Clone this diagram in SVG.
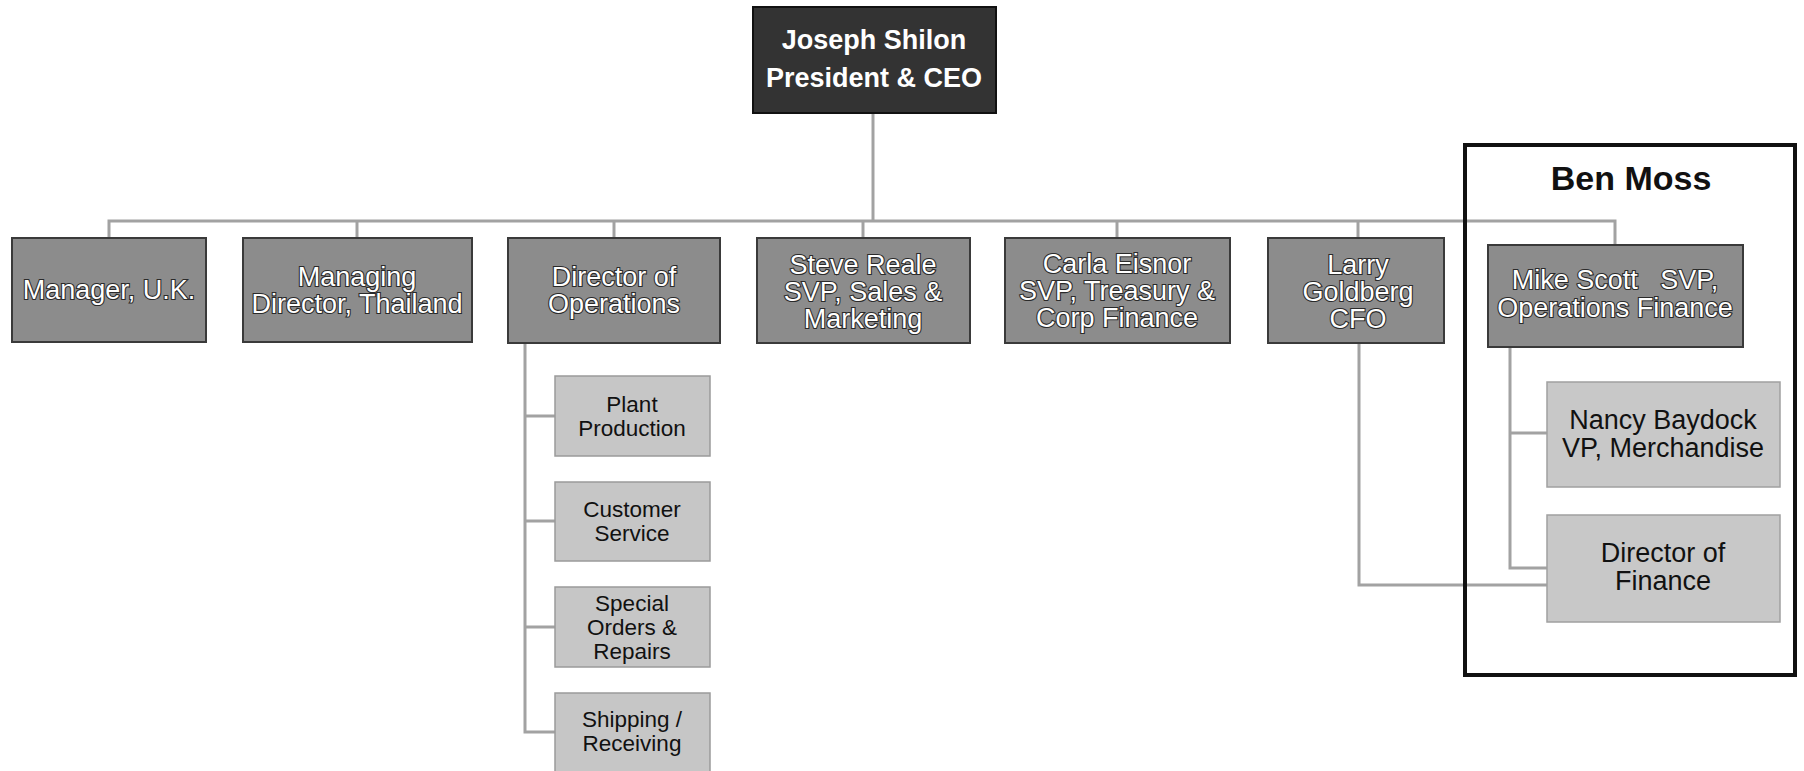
<svg xmlns="http://www.w3.org/2000/svg" width="1804" height="771" viewBox="0 0 1804 771">
<style>
.bg{fill:#ffffff}
.top{fill:#8c8c8c;stroke:#3a3a3a;stroke-width:2}
.ceo{fill:#333333;stroke:#111111;stroke-width:2}
.sub{fill:#c6c6c6;stroke:#9a9a9a;stroke-width:1.5}
.subL{fill:#c8c8c8;stroke:#a0a0a0;stroke-width:1.5}
.wt{font-family:"Liberation Sans",Arial,sans-serif;font-size:27px;fill:#ffffff;stroke:#2a2a2a;stroke-width:2.2;paint-order:stroke;text-anchor:middle;white-space:pre}
.ct{font-family:"Liberation Sans",Arial,sans-serif;font-size:27px;font-weight:bold;fill:#ffffff;text-anchor:middle}
.st{font-family:"Liberation Sans",Arial,sans-serif;font-size:22.5px;fill:#111111;text-anchor:middle}
.lt{font-family:"Liberation Sans",Arial,sans-serif;font-size:27px;fill:#111111;text-anchor:middle}
.bm{font-family:"Liberation Sans",Arial,sans-serif;font-size:34px;font-weight:bold;fill:#111111;text-anchor:middle}
.ln{fill:none;stroke:#a2a2a2;stroke-width:3}
.frame{fill:none;stroke:#111111;stroke-width:4}
</style>
<rect class="bg" x="0" y="0" width="1804" height="771"/>

<g id="connectors">
  <path class="ln" d="M873 113 V221"/>
  <path class="ln" d="M109 238 V221 H1615 V245"/>
  <path class="ln" d="M357 221 V238"/>
  <path class="ln" d="M614 221 V238"/>
  <path class="ln" d="M863 221 V238"/>
  <path class="ln" d="M1117 221 V238"/>
  <path class="ln" d="M1358 221 V238"/>
  <path class="ln" d="M525 343 V732 H555 M525 416 H555 M525 521 H555 M525 627 H555"/>
  <path class="ln" d="M1359 343 V585 H1547"/>
  <path class="ln" d="M1510 347 V568 H1547 M1510 433 H1547"/>
</g>

<g id="ben-moss-group">
  <rect class="frame" x="1465" y="145" width="330" height="530"/>
  <text class="bm" x="1631" y="190">Ben Moss</text>
</g>

<g id="ceo">
  <rect class="ceo" x="753" y="7" width="243" height="106"/>
  <text class="ct" x="874" y="49">Joseph Shilon</text>
  <text class="ct" x="874" y="87">President &amp; CEO</text>
</g>

<g id="manager-uk">
  <rect class="top" x="12" y="238" width="194" height="104"/>
  <text class="wt" x="109" y="299">Manager, U.K.</text>
</g>

<g id="md-thailand">
  <rect class="top" x="243" y="238" width="229" height="104"/>
  <text class="wt" x="357" y="286">Managing</text>
  <text class="wt" x="357" y="313">Director, Thailand</text>
</g>

<g id="dir-operations">
  <rect class="top" x="508" y="238" width="212" height="105"/>
  <text class="wt" x="614" y="286">Director of</text>
  <text class="wt" x="614" y="313">Operations</text>
</g>

<g id="steve-reale">
  <rect class="top" x="757" y="238" width="213" height="105"/>
  <text class="wt" x="863" y="274">Steve Reale</text>
  <text class="wt" x="863" y="301">SVP, Sales &amp;</text>
  <text class="wt" x="863" y="328">Marketing</text>
</g>

<g id="carla-eisnor">
  <rect class="top" x="1005" y="238" width="225" height="105"/>
  <text class="wt" x="1117" y="273">Carla Eisnor</text>
  <text class="wt" x="1117" y="300">SVP, Treasury &amp;</text>
  <text class="wt" x="1117" y="327">Corp Finance</text>
</g>

<g id="larry-goldberg">
  <rect class="top" x="1268" y="238" width="176" height="105"/>
  <text class="wt" x="1358" y="274">Larry</text>
  <text class="wt" x="1358" y="301">Goldberg</text>
  <text class="wt" x="1358" y="328">CFO</text>
</g>

<g id="mike-scott">
  <rect class="top" x="1488" y="245" width="255" height="102"/>
  <text class="wt" x="1615" y="289">Mike Scott   SVP,</text>
  <text class="wt" x="1615" y="317">Operations Finance</text>
</g>

<g id="plant-production">
  <rect class="sub" x="555" y="376" width="155" height="80"/>
  <text class="st" x="632" y="412">Plant</text>
  <text class="st" x="632" y="436">Production</text>
</g>

<g id="customer-service">
  <rect class="sub" x="555" y="482" width="155" height="79"/>
  <text class="st" x="632" y="517">Customer</text>
  <text class="st" x="632" y="541">Service</text>
</g>

<g id="special-orders">
  <rect class="sub" x="555" y="587" width="155" height="80"/>
  <text class="st" x="632" y="611">Special</text>
  <text class="st" x="632" y="635">Orders &amp;</text>
  <text class="st" x="632" y="659">Repairs</text>
</g>

<g id="shipping-receiving">
  <rect class="sub" x="555" y="693" width="155" height="82"/>
  <text class="st" x="632" y="727">Shipping /</text>
  <text class="st" x="632" y="751">Receiving</text>
</g>

<g id="nancy-baydock">
  <rect class="subL" x="1547" y="382" width="233" height="105"/>
  <text class="lt" x="1663" y="429">Nancy Baydock</text>
  <text class="lt" x="1663" y="457">VP, Merchandise</text>
</g>

<g id="director-finance">
  <rect class="subL" x="1547" y="515" width="233" height="107"/>
  <text class="lt" x="1663" y="562">Director of</text>
  <text class="lt" x="1663" y="590">Finance</text>
</g>
</svg>
